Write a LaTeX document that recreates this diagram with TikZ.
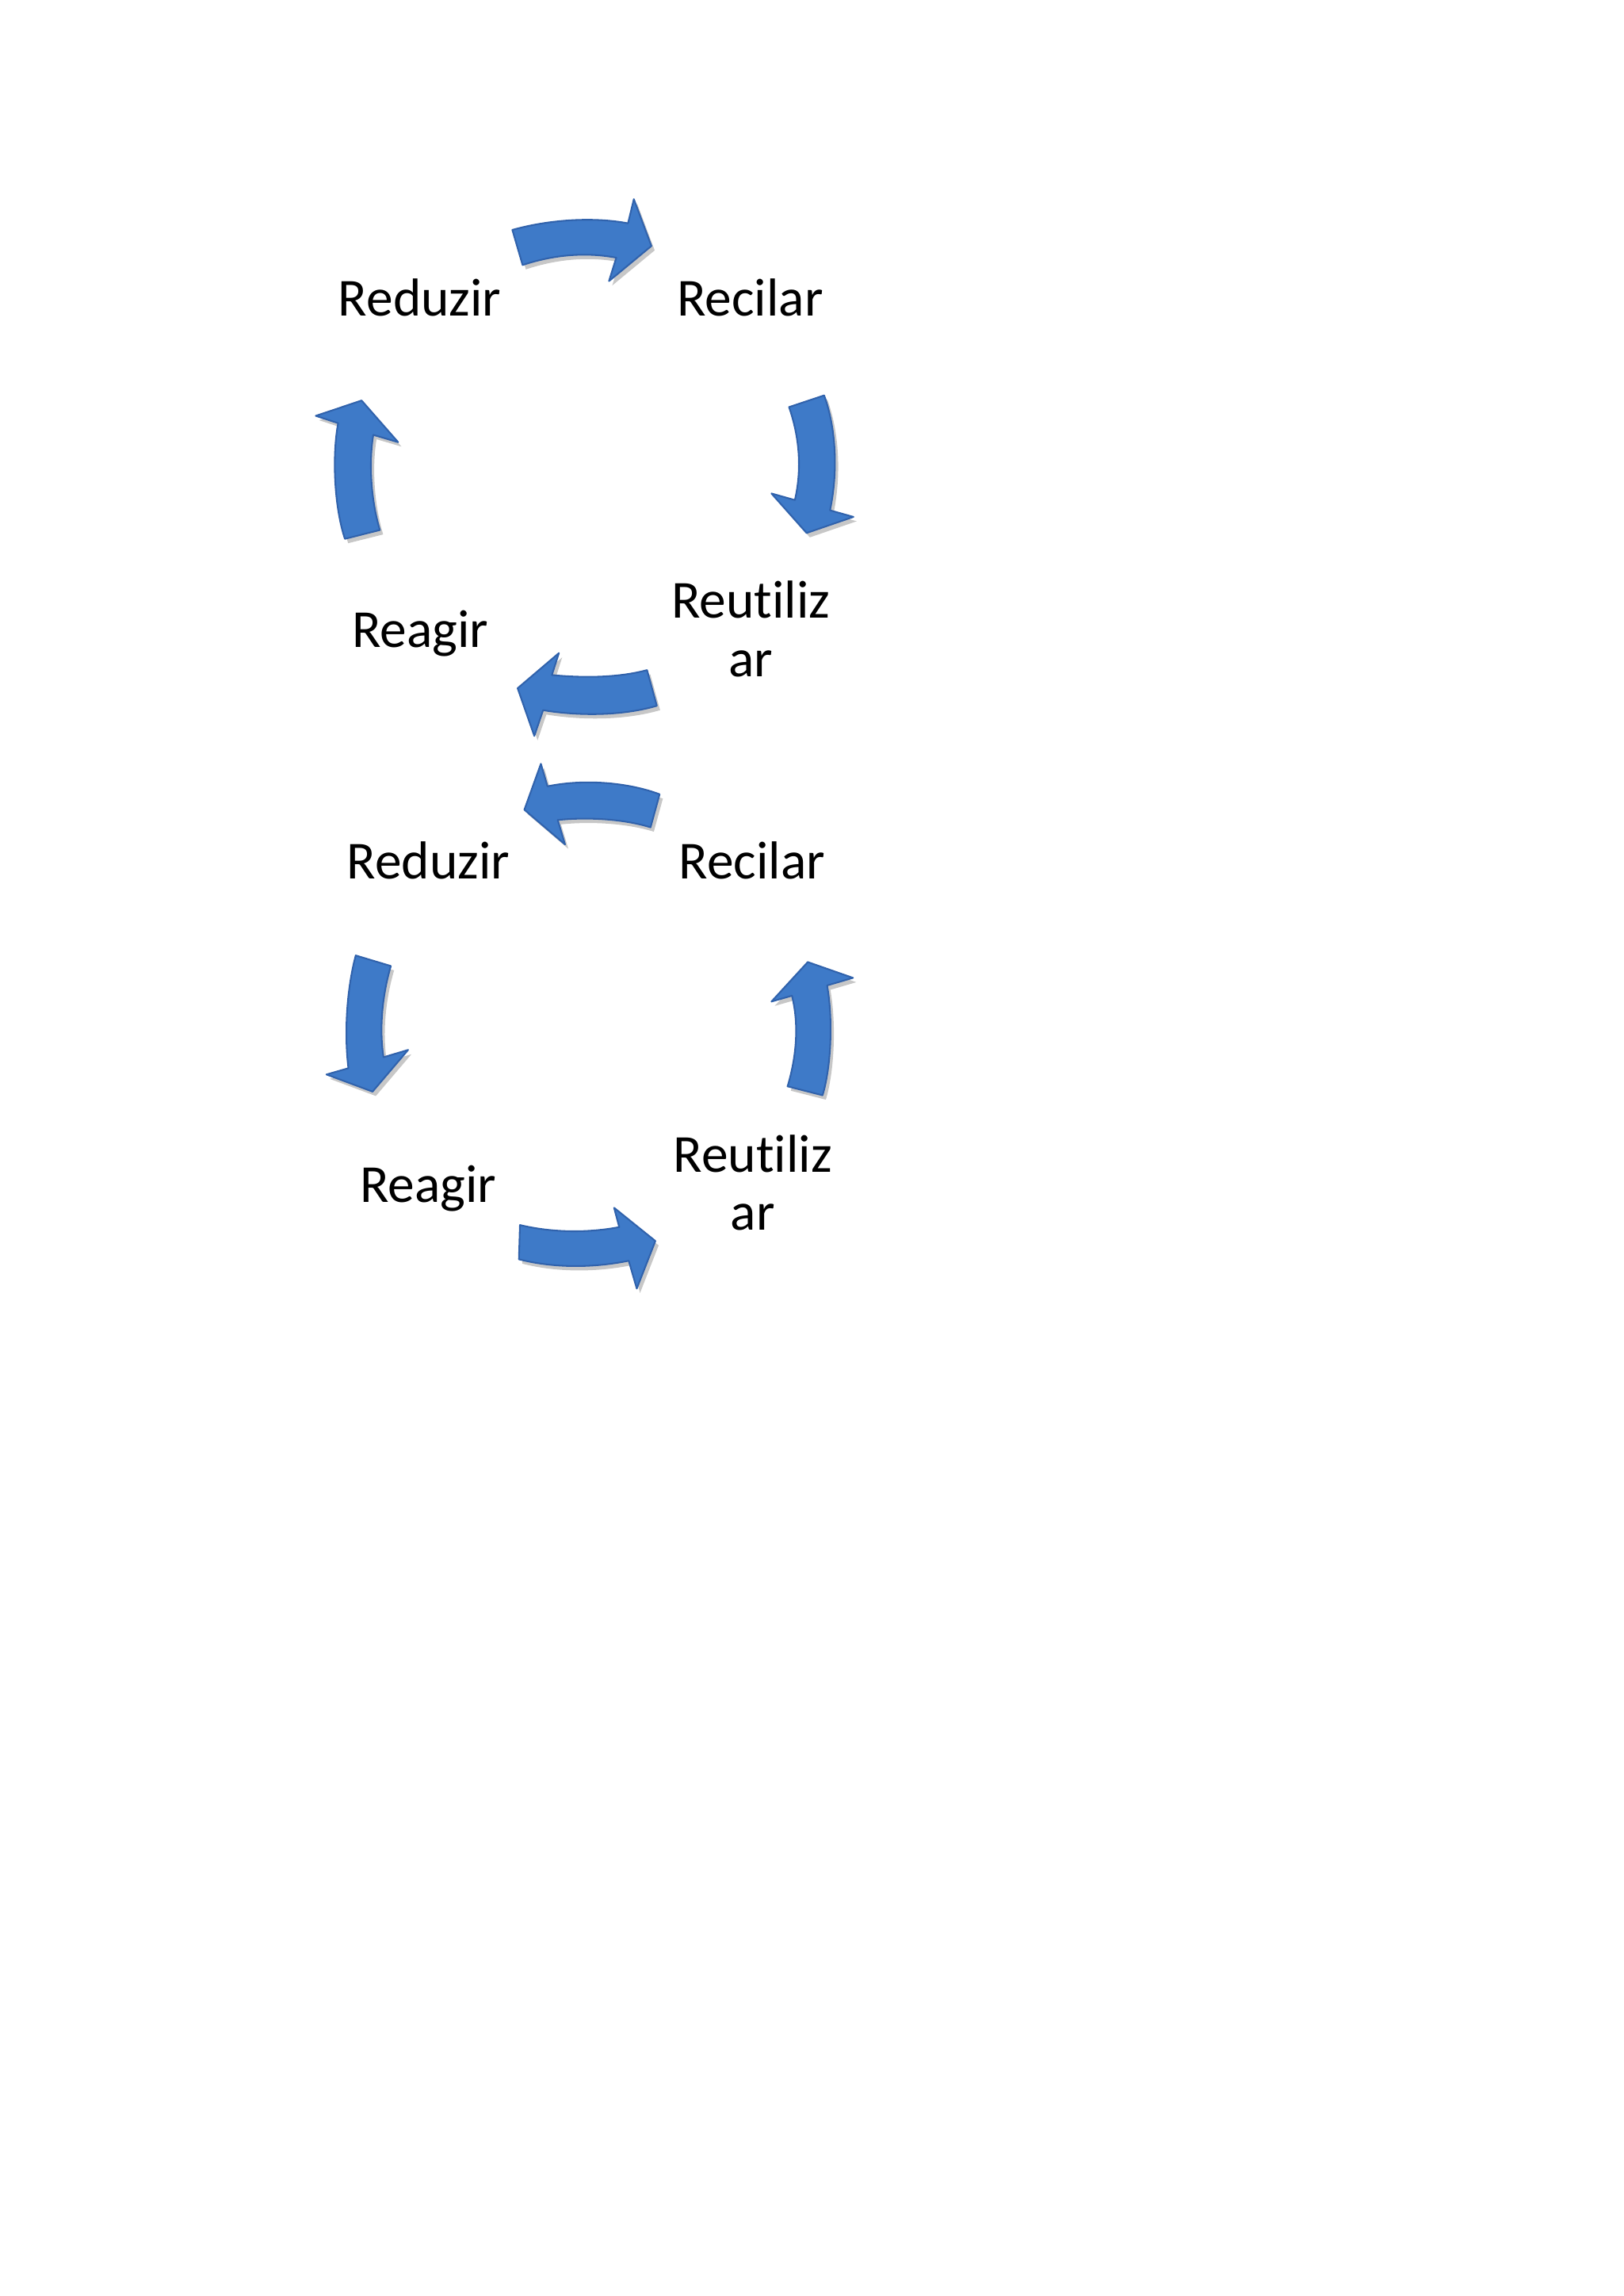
\documentclass[tikz,border=0pt]{standalone}
\usepackage{fontspec}
\setmainfont{Carlito}[Ligatures=NoCommon]
\usetikzlibrary{shadows}
\definecolor{arrowblue}{RGB}{62,122,200}
\definecolor{arrowedge}{RGB}{48,98,172}
\begin{document}
\begin{tikzpicture}[x=0.5368pt,y=-0.5368pt,
  cyclearrow/.style={fill=arrowblue,draw=arrowedge,line width=0.6pt,line join=round,
    drop shadow={shadow xshift=1.2pt,shadow yshift=-1.6pt,opacity=0.22,fill=black}},
  lbl/.style={font=\fontsize{19.6}{21.5}\selectfont,anchor=base,inner sep=0pt,align=center}]
\fill[white] (0,0) rectangle (1109,1568);
\useasboundingbox (0,0) rectangle (1109,1568);
% labels (anchor=base is the baseline of the last line)
\node[lbl] (red1) at (286.8,215.7) {Reduzir};
\node[lbl] (rec1) at (512.4,215.7) {Recilar};
\node[lbl] (reu1) at (513,462) {Reutiliz\\ar};
\node[lbl] (rea1) at (287,441.9) {Reagir};
\node[lbl] (red2) at (292.6,600) {Reduzir};
\node[lbl] (rec2) at (513.8,600) {Recilar};
\node[lbl] (reu2) at (514.3,840.3) {Reutiliz\\ar};
\node[lbl] (rea2) at (292.6,821.3) {Reagir};
% arrows, upper cycle
\path[cyclearrow] (350,157) .. controls (375,150) and (405,148) .. (429,152.5) -- (433,136) -- (445,168) -- (416,192) -- (421,176) .. controls (400,172) and (378,174) .. (357,181) -- cycle;
\path[cyclearrow] (539,278) -- (563,270) .. controls (572,295) and (572,325) .. (567,348.5) -- (583,353) -- (551,364) -- (527,337) -- (543,341.5) .. controls (548,320) and (546,298) .. (539,278) -- cycle;
\path[cyclearrow] (442,457.6) -- (448.7,482) .. controls (425,489) and (395,489) .. (371,485) -- (365,502.6) -- (353.6,470) -- (381.8,446) -- (377,461) .. controls (398,463) and (422,463) .. (442,457.6) -- cycle;
\path[cyclearrow] (235.6,368) -- (259.5,362) .. controls (253,340) and (252,315) .. (255,297) -- (272,302) -- (247,273.5) -- (215.7,284) -- (231,289) .. controls (227,310) and (228,345) .. (235.6,368) -- cycle;
% arrows, lower cycle
\path[cyclearrow] (450.6,542.4) -- (444.4,565) .. controls (425,559) and (400,558) .. (381,560) -- (386,576.7) -- (358.2,553) -- (369.5,521.6) -- (374,537) .. controls (398,532) and (428,534) .. (450.6,542.4) -- cycle;
\path[cyclearrow] (243,652.5) -- (267,659.7) .. controls (261,680) and (259,703) .. (262,722) -- (278.8,717) -- (254.5,745.5) -- (223,733.8) -- (238,729.5) .. controls (235,705) and (237,675) .. (243,652.5) -- cycle;
\path[cyclearrow] (355.2,836.6) .. controls (378,842) and (402,842) .. (423,838) -- (419.5,824.8) -- (447.7,847.5) -- (435,880) -- (429.5,861) .. controls (405,866) and (378,866) .. (354.5,860) -- cycle;
\path[cyclearrow] (538,741.9) -- (561.9,748) .. controls (568,728) and (569,695) .. (565,673) -- (582.7,667.8) -- (551.8,657) -- (527,684) -- (541,680) .. controls (546,700) and (544,722) .. (538,741.9) -- cycle;
\end{tikzpicture}
\end{document}
